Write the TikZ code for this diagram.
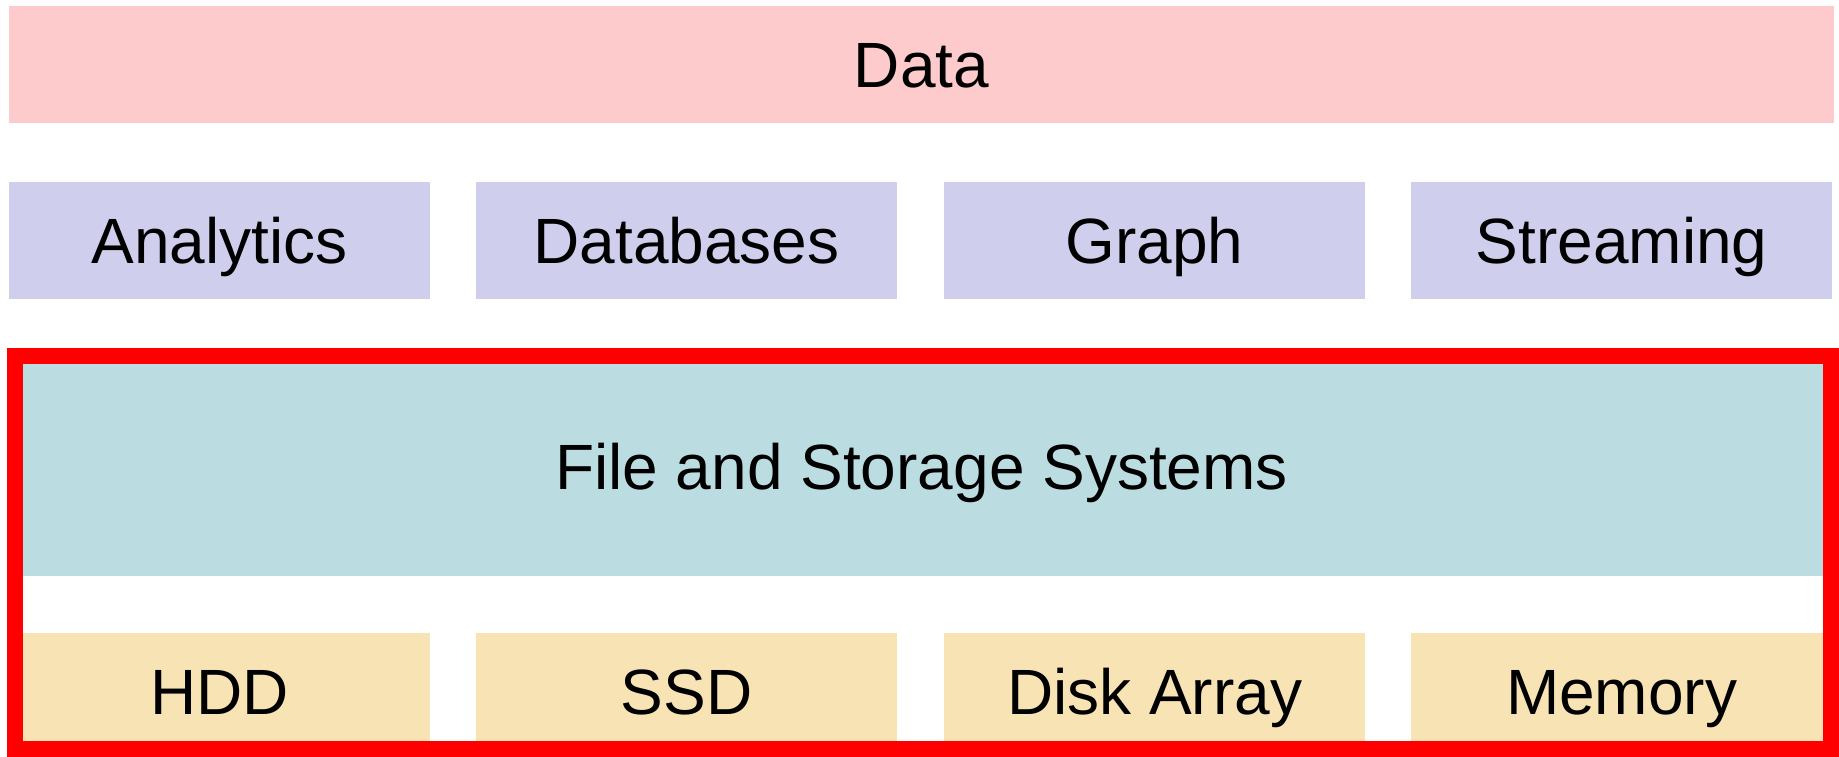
\documentclass[tikz,border=0pt]{standalone}
\usepackage{fontspec}
\setmainfont{Liberation Sans}
\usepackage{tikz}

\definecolor{datapink}{HTML}{FDCBCB}
\definecolor{applav}{HTML}{CFCFED}
\definecolor{fscyan}{HTML}{BBDDE1}
\definecolor{devtan}{HTML}{F7E3B4}

\tikzset{
  layer/.style={inner sep=0pt, outer sep=0pt, anchor=north west,
    minimum height=1.17cm, text height=13.0pt, text depth=0pt,
    font=\fontsize{18.2}{22}\selectfont},
  app/.style={layer, fill=applav, minimum width=4.21cm},
  dev/.style={layer, fill=devtan, minimum width=4.21cm}
}

\begin{document}
\begin{tikzpicture}[x=0.01cm,y=-0.01cm]
\useasboundingbox (0,0) rectangle (1839,756);
% data, riga in alto
\node (data) at (9,6) [layer, fill=datapink, minimum width=18.24cm] {Data};
% applicazioni
\node (analytics) at (9,182) [app] {Analytics};
\node (databases) at (476,182) [app] {Databases};
\node (graph) at (944,182) [app] {Graph};
\node (streaming) at (1411,182) [app] {Streaming};
% file system
\node (fs) at (9,358) [layer, fill=fscyan, minimum width=18.24cm, minimum height=2.18cm] {File and Storage Systems};
% dispositivi
\node (hdd) at (9,633) [dev] {HDD};
\node (ssd) at (476,633) [dev] {SSD};
\node (array) at (944,633) [dev] {Disk Array};
\node (memory) at (1411,633) [dev] {Memory};
% cornice rossa
\draw[red, line width=1.6mm] (15,356) rectangle (1831,749);
\end{tikzpicture}
\end{document}
